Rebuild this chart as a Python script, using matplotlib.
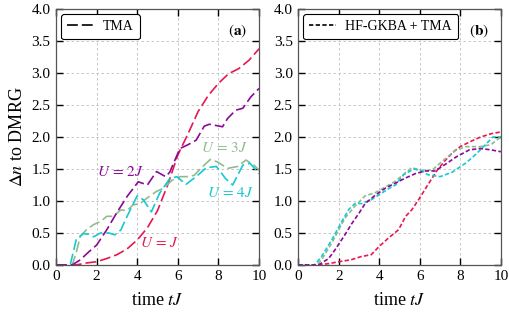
import numpy as np
import matplotlib
matplotlib.use('Agg')
import matplotlib.pyplot as plt
from matplotlib.lines import Line2D

plt.rcParams['font.family'] = ['Liberation Serif', 'DejaVu Serif']
plt.rcParams['mathtext.fontset'] = 'stix'

# Colours for each U
c_red = '#e8174f'
c_pur = '#8b0a94'
c_grn = '#8fbc8f'
c_cya = '#17c9d0'

# ---- panel (a) TMA ----
ta_red = [0, 1.0, 1.5, 2, 2.5, 3, 3.5, 4, 4.5, 5, 5.5, 6, 6.5, 7, 7.5, 8, 8.5, 9, 9.5, 10]
ya_red = [0, 0, 0.03, 0.05, 0.1, 0.16, 0.25, 0.39, 0.58, 0.85, 1.25, 1.72, 2.05, 2.4, 2.65,
          2.84, 2.99, 3.07, 3.2, 3.38]

ta_pur = [0, 0.8, 1.2, 1.6, 2, 2.5, 3, 3.5, 4.05, 4.5, 4.95, 5.4, 5.6, 6.1, 6.5, 6.9, 7.3,
          7.55, 8.05, 8.2, 8.45, 8.85, 9.2, 9.6, 10]
ya_pur = [0, 0, 0.08, 0.2, 0.31, 0.55, 0.82, 1.07, 1.30, 1.25, 1.46, 1.38, 1.45, 1.82, 1.88,
          1.95, 2.17, 2.20, 2.17, 2.16, 2.29, 2.42, 2.45, 2.63, 2.76]

ta_grn = [0, 0.8, 1.0, 1.2, 1.5, 1.85, 2.2, 2.5, 2.8, 3.2, 3.5, 3.8, 4.15, 4.5, 4.95, 5.3,
          5.7, 6.1, 6.45, 6.8, 7.1, 7.6, 7.95, 8.45, 8.95, 9.35, 9.75, 10]
ya_grn = [0, 0, 0.2, 0.45, 0.55, 0.63, 0.68, 0.76, 0.76, 0.86, 0.85, 0.94, 0.96, 1.05, 1.15,
          1.2, 1.32, 1.38, 1.38, 1.4, 1.5, 1.65, 1.61, 1.51, 1.54, 1.64, 1.56, 1.48]

ta_cya = [0, 0.7, 1.0, 1.35, 1.6, 1.85, 2.2, 2.6, 2.9, 3.2, 3.5, 4.0, 4.3, 4.7, 5.1, 5.6,
          5.95, 6.4, 6.9, 7.4, 7.9, 8.35, 8.7, 9.2, 9.55, 10]
ya_cya = [0, 0, 0.4, 0.49, 0.48, 0.44, 0.5, 0.5, 0.47, 0.55, 0.76, 1.08, 1.02, 0.83, 1.12,
          1.35, 1.38, 1.26, 1.38, 1.52, 1.54, 1.35, 1.25, 1.56, 1.59, 1.43]

# ---- panel (b) HF-GKBA + TMA ----
tb_red = [0, 1.0, 1.5, 2, 2.6, 3.1, 3.6, 4.0, 4.45, 4.95, 5.3, 5.6, 6.0, 6.45, 6.9, 7.3,
          7.7, 8.0, 8.5, 9.0, 9.5, 10]
yb_red = [0, 0, 0.02, 0.05, 0.08, 0.13, 0.16, 0.29, 0.42, 0.55, 0.76, 0.86, 1.05, 1.28, 1.5,
          1.65, 1.78, 1.85, 1.93, 2.0, 2.05, 2.08]

tb_grn = [0, 0.9, 1.15, 1.65, 2.0, 2.3, 2.8, 3.3, 3.8, 4.3, 4.8, 5.25, 5.6, 6.1, 6.6, 7.1,
          7.8, 8.3, 9.0, 9.5, 10]
yb_grn = [0, 0, 0.08, 0.34, 0.55, 0.73, 0.92, 1.08, 1.13, 1.22, 1.31, 1.43, 1.52, 1.48, 1.48,
          1.62, 1.8, 1.85, 1.85, 1.88, 2.0]

tb_cya = [0, 0.8, 1.15, 1.65, 2.15, 2.5, 2.8, 3.15, 3.6, 4.1, 4.5, 4.8, 5.2, 5.7, 6.1, 6.4,
          7.0, 7.6, 8.3, 8.8, 9.3, 9.6, 10]
yb_cya = [0, 0, 0.13, 0.39, 0.68, 0.87, 0.96, 0.96, 1.02, 1.12, 1.2, 1.25, 1.41, 1.5, 1.47,
          1.41, 1.38, 1.45, 1.6, 1.74, 1.9, 2.0, 2.0]

tb_pur = [0, 1.0, 1.5, 1.8, 2.3, 2.65, 3.0, 3.3, 3.8, 4.3, 4.8, 5.3, 5.8, 6.3, 6.75, 7.2,
          7.8, 8.45, 9.0, 9.5, 10]
yb_pur = [0, 0, 0.1, 0.23, 0.47, 0.65, 0.81, 0.96, 1.09, 1.2, 1.28, 1.36, 1.43, 1.47, 1.47,
          1.56, 1.69, 1.8, 1.82, 1.8, 1.77]

fig = plt.figure(figsize=(5.09, 3.15), dpi=100)
axa = fig.add_axes([0.110, 0.159, 0.399, 0.812])
axb = fig.add_axes([0.586, 0.159, 0.398, 0.812])

long_dash = (6.5, 2.4)
short_dash = (2.6, 1.4)

for t, y, c in [(ta_red, ya_red, c_red), (ta_grn, ya_grn, c_grn),
                (ta_cya, ya_cya, c_cya), (ta_pur, ya_pur, c_pur)]:
    axa.plot(t, y, color=c, lw=1.2, dashes=long_dash)

for t, y, c in [(tb_red, yb_red, c_red), (tb_grn, yb_grn, c_grn),
                (tb_cya, yb_cya, c_cya), (tb_pur, yb_pur, c_pur)]:
    axb.plot(t, y, color=c, lw=1.2, dashes=short_dash)

for ax in (axa, axb):
    ax.set_xlim(0, 10)
    ax.set_ylim(0, 4)
    ax.set_xticks([0, 2, 4, 6, 8, 10])
    ax.set_yticks(np.arange(0, 4.01, 0.5))
    ax.set_yticklabels(['%.1f' % v for v in np.arange(0, 4.01, 0.5)])
    ax.tick_params(direction='in', top=True, right=True, length=5, width=1,
                   labelsize=11, pad=4)
    ax.grid(True, color='#bdbdbd', linestyle=(0, (3, 3)), lw=0.6)
    for s in ax.spines.values():
        s.set_color('#555555')
        s.set_linewidth(0.9)
    ax.set_xlabel(r'time $tJ$', fontsize=13, labelpad=6)

axa.set_ylabel(r'$\Delta n$ to DMRG', fontsize=13, labelpad=4)

# curve labels
axa.text(3.15, 1.45, r'$U\,=\,2J$', color=c_pur, fontsize=11, ha='center', va='center')
axa.text(8.3, 1.83, r'$U\,=\,3J$', color=c_grn, fontsize=11, ha='center', va='center')
axa.text(8.57, 1.12, r'$U\,=\,4J$', color=c_cya, fontsize=11, ha='center', va='center')
axa.text(5.1, 0.34, r'$U\,=\,J$', color=c_red, fontsize=11, ha='center', va='center')

axa.text(0.94, 0.915, r'$(\mathbf{a})$', transform=axa.transAxes, fontsize=11,
         ha='right', va='center')
axb.text(0.94, 0.915, r'$(\mathbf{b})$', transform=axb.transAxes, fontsize=11,
         ha='right', va='center')

h_a = Line2D([], [], color='black', lw=1.2, dashes=long_dash)
h_b = Line2D([], [], color='black', lw=1.2, dashes=short_dash)
for ax, h, lab in [(axa, h_a, 'TMA'), (axb, h_b, 'HF-GKBA + TMA')]:
    leg = ax.legend([h], [lab], loc='upper left', fontsize=10, frameon=True,
                    fancybox=True, handlelength=1.9, handletextpad=0.7,
                    borderpad=0.45, borderaxespad=0.35, bbox_to_anchor=(0.0, 1.0))
    leg.get_frame().set_edgecolor('black')
    leg.get_frame().set_linewidth(0.8)
    leg.get_frame().set_alpha(1)

fig.savefig('out.png', dpi=100)
